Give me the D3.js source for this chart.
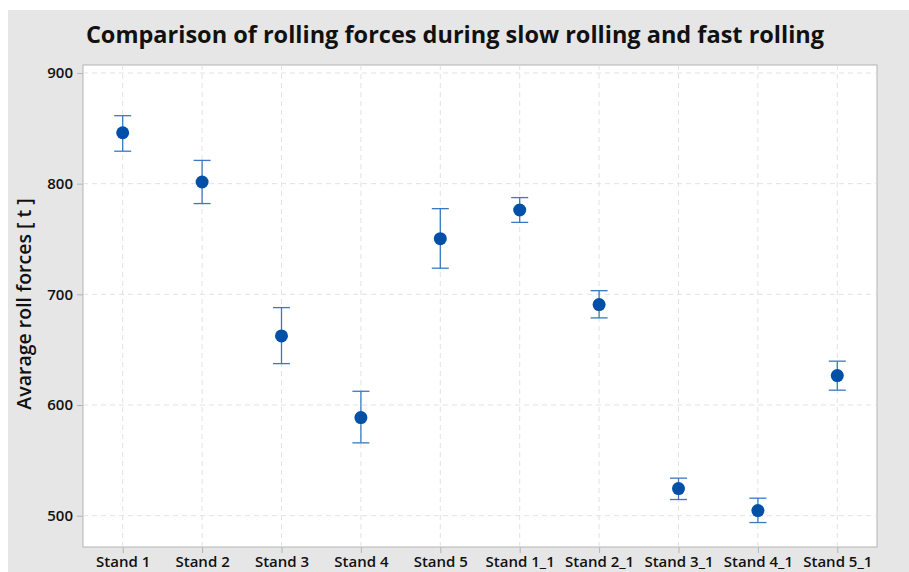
<!DOCTYPE html>
<html><head><meta charset="utf-8">
<script src="https://cdn.jsdelivr.net/npm/d3@7"></script>
<style>
html,body{margin:0;padding:0;background:#fff;}
svg{display:block;}
</style>
</head><body>
<script>
const categories = ["Stand 1","Stand 2","Stand 3","Stand 4","Stand 5","Stand 1_1","Stand 2_1","Stand 3_1","Stand 4_1","Stand 5_1"];
const means = [846, 801.5, 662.4, 588.6, 750.3, 776.2, 690.7, 524.5, 504.6, 626.6];
const upper = [861.4, 821, 688, 612.4, 777.4, 787.4, 703.3, 533.9, 515.8, 639.6];
const lower = [829.3, 782, 637.4, 565.8, 723.6, 765, 678.7, 514.6, 493.8, 613.4];
const yTicks = [500, 600, 700, 800, 900];
const title = "Comparison of rolling forces during slow rolling and fast rolling";
const yTitle = "Avarage roll forces [ t ]";

const W = 909, H = 572;
const m = {left: 83, right: 32, top: 65, bottom: 25};
const svg = d3.select("body").append("svg").attr("width", W).attr("height", H);
svg.append("rect").attr("x", 8).attr("y", 10).attr("width", W - 8).attr("height", H - 10).attr("fill", "#e6e6e6");
const pw = W - m.left - m.right, ph = H - m.top - m.bottom;
svg.append("rect").attr("x", m.left).attr("y", m.top).attr("width", pw).attr("height", ph)
  .attr("fill", "#fff").attr("stroke", "#b4b4b4").attr("stroke-width", 1);

const x = d3.scalePoint().domain(categories).range([m.left, m.left + pw]).padding(0.5);
const y = d3.scaleLinear().domain([471.7, 907.2]).range([m.top + ph, m.top]);

const font = "'Open Sans', 'Noto Sans', sans-serif";
const g = svg.append("g");
// grid
g.selectAll("line.gy").data(yTicks).join("line")
  .attr("x1", m.left).attr("x2", m.left + pw).attr("y1", d => y(d)).attr("y2", d => y(d))
  .attr("stroke", "#e2e2e2").attr("stroke-dasharray", "5,4");
g.selectAll("line.gx").data(categories).join("line")
  .attr("y1", m.top).attr("y2", m.top + ph).attr("x1", d => x(d)).attr("x2", d => x(d))
  .attr("stroke", "#e2e2e2").attr("stroke-dasharray", "5,4");

// axes
const yAxis = svg.append("g").attr("transform", `translate(${m.left},0)`)
  .call(d3.axisLeft(y).tickValues(yTicks).tickSize(6).tickPadding(4));
const xAxis = svg.append("g").attr("transform", `translate(0,${m.top + ph})`)
  .call(d3.axisBottom(x).tickSize(6).tickPadding(3));
[yAxis, xAxis].forEach(a => {
  a.select(".domain").remove();
  a.selectAll(".tick line").attr("stroke", "#b4b4b4");
  a.selectAll(".tick text").attr("fill", "#111").style("font-family", font)
    .style("font-size", "15px").style("font-weight", 600);
});

// error bars
const col = "#3a79c2";
const idx = d3.range(categories.length);
const eb = svg.append("g");
eb.selectAll("line.v").data(idx).join("line")
  .attr("x1", i => x(categories[i])).attr("x2", i => x(categories[i]))
  .attr("y1", i => y(upper[i])).attr("y2", i => y(lower[i]))
  .attr("stroke", col).attr("stroke-width", 1.3);
eb.selectAll("line.u").data(idx).join("line")
  .attr("x1", i => x(categories[i]) - 8.5).attr("x2", i => x(categories[i]) + 8.5)
  .attr("y1", i => y(upper[i])).attr("y2", i => y(upper[i]))
  .attr("stroke", col).attr("stroke-width", 1.3);
eb.selectAll("line.l").data(idx).join("line")
  .attr("x1", i => x(categories[i]) - 8.5).attr("x2", i => x(categories[i]) + 8.5)
  .attr("y1", i => y(lower[i])).attr("y2", i => y(lower[i]))
  .attr("stroke", col).attr("stroke-width", 1.3);
eb.selectAll("circle").data(idx).join("circle")
  .attr("cx", i => x(categories[i])).attr("cy", i => y(means[i])).attr("r", 6.5)
  .attr("fill", "#0050a8");

// titles
svg.append("text").attr("x", 455).attr("y", 43).attr("text-anchor", "middle")
  .style("font-family", font).style("font-size", "23.5px").style("font-weight", 700)
  .attr("fill", "#111").text(title);
svg.append("text").attr("transform", `translate(31,${m.top + ph / 2 - 2}) rotate(-90)`)
  .attr("text-anchor", "middle").style("font-family", font).style("font-size", "19.5px")
  .style("font-weight", 600).attr("fill", "#111").text(yTitle);
</script>
</body></html>
